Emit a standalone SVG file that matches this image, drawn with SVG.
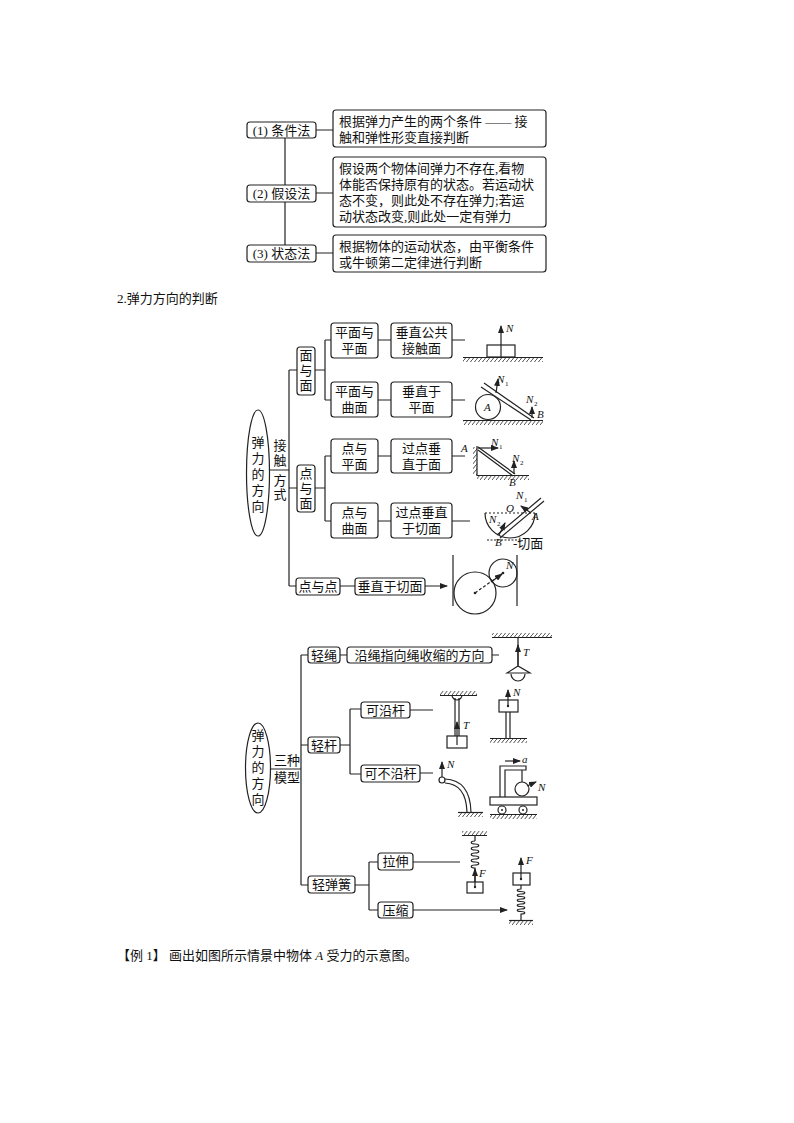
<svg xmlns="http://www.w3.org/2000/svg" width="794" height="1123" viewBox="0 0 794 1123">
<style>
.b{fill:#fff;stroke:#222;stroke-width:1.2}
.l{fill:none;stroke:#222;stroke-width:1.2}
.t{font-family:"Liberation Serif","Noto Sans CJK SC",serif;font-size:13px;fill:#111}
.c{text-anchor:middle}
.i{font-style:italic;font-size:11px}
.s{font-size:7px}
.th{fill:none;stroke:#222;stroke-width:0.9}
</style>
<defs>
<marker id="a" markerWidth="8" markerHeight="6" refX="7" refY="3" orient="auto" markerUnits="userSpaceOnUse"><path d="M0,0 L8,3 L0,6 Z" fill="#222"/></marker>
<pattern id="h" width="4" height="5" patternUnits="userSpaceOnUse"><path d="M4,0 L0,5" stroke="#222" stroke-width="0.8"/></pattern>
</defs>
<rect width="794" height="1123" fill="#fff"/>

<!-- Section 1 -->
<g id="connectors1">
<path class="l" d="M285,138 V245 M316,130 H333 M316,193 H333 M316,253 H333"/>
</g>
<g id="n1"><rect class="b" x="247" y="122" width="69" height="16" rx="3"/><text class="t c" x="281.5" y="135">(1) 条件法</text></g>
<g id="n1r"><rect class="b" x="333" y="110" width="213" height="37" rx="3"/><text class="t" x="339" y="126">根据弹力产生的两个条件 —— 接</text><text class="t" x="339" y="142">触和弹性形变直接判断</text></g>
<g id="n2"><rect class="b" x="247" y="185" width="69" height="17" rx="3"/><text class="t c" x="281.5" y="198">(2) 假设法</text></g>
<g id="n2r"><rect class="b" x="333" y="157" width="213" height="70" rx="3"/><text class="t" x="339" y="173">假设两个物体间弹力不存在,看物</text><text class="t" x="339" y="189">体能否保持原有的状态。若运动状</text><text class="t" x="339" y="205">态不变，则此处不存在弹力;若运</text><text class="t" x="339" y="221">动状态改变,则此处一定有弹力</text></g>
<g id="n3"><rect class="b" x="247" y="245" width="69" height="17" rx="3"/><text class="t c" x="281.5" y="258">(3) 状态法</text></g>
<g id="n3r"><rect class="b" x="333" y="235" width="213" height="37" rx="3"/><text class="t" x="339" y="251">根据物体的运动状态，由平衡条件</text><text class="t" x="339" y="267">或牛顿第二定律进行判断</text></g>

<text class="t" x="117" y="303">2.弹力方向的判断</text>

<!-- Section 2 -->
<g id="connectors2">
<path class="l" d="M270,470 H289 M289,370 V586 M289,370 H297 M289,488 H297 M289,586 H296 M315,370 H325 M325,340 V400 M325,340 H331 M325,400 H331 M315,488 H325 M325,456 V521 M325,456 H331 M325,521 H331"/>
<path class="l" marker-end="url(#a)" d="M378,340 H391 M452,340 H465 M378,400 H391 M452,400 H465 M378,456 H391 M452,456 H465 M378,521 H391 M452,521 H470 M340,586 H355 M425,586 H447"/>
</g>
<g id="e2"><ellipse class="b" cx="258" cy="473" rx="11.5" ry="63"/><text class="t c" x="258" y="447">弹</text><text class="t c" x="258" y="463">力</text><text class="t c" x="258" y="479">的</text><text class="t c" x="258" y="495">方</text><text class="t c" x="258" y="511">向</text></g>
<g id="jc"><text class="t c" x="280" y="450">接</text><text class="t c" x="280" y="465">触</text><text class="t c" x="280" y="485">方</text><text class="t c" x="280" y="499">式</text></g>
<g id="mym"><rect class="b" x="297" y="347" width="18" height="48" rx="3"/><text class="t c" x="306" y="360">面</text><text class="t c" x="306" y="375">与</text><text class="t c" x="306" y="390">面</text></g>
<g id="dym"><rect class="b" x="297" y="465" width="18" height="47" rx="3"/><text class="t c" x="306" y="478">点</text><text class="t c" x="306" y="493">与</text><text class="t c" x="306" y="508">面</text></g>
<g id="pmpm"><rect class="b" x="331" y="323" width="47" height="35" rx="3"/><text class="t c" x="354.5" y="337">平面与</text><text class="t c" x="354.5" y="353">平面</text></g>
<g id="czgg"><rect class="b" x="391" y="323" width="61" height="35" rx="3"/><text class="t c" x="421.5" y="337">垂直公共</text><text class="t c" x="421.5" y="353">接触面</text></g>
<g id="pmqm"><rect class="b" x="331" y="382" width="47" height="35" rx="3"/><text class="t c" x="354.5" y="396">平面与</text><text class="t c" x="354.5" y="412">曲面</text></g>
<g id="czypm"><rect class="b" x="391" y="382" width="61" height="35" rx="3"/><text class="t c" x="421.5" y="396">垂直于</text><text class="t c" x="421.5" y="412">平面</text></g>
<g id="dypm"><rect class="b" x="331" y="439" width="47" height="34" rx="3"/><text class="t c" x="354.5" y="453">点与</text><text class="t c" x="354.5" y="469">平面</text></g>
<g id="gdcz"><rect class="b" x="391" y="439" width="61" height="34" rx="3"/><text class="t c" x="421.5" y="453">过点垂</text><text class="t c" x="421.5" y="469">直于面</text></g>
<g id="dyqm"><rect class="b" x="331" y="503" width="47" height="35" rx="3"/><text class="t c" x="354.5" y="517">点与</text><text class="t c" x="354.5" y="533">曲面</text></g>
<g id="gdczqm"><rect class="b" x="391" y="503" width="61" height="35" rx="3"/><text class="t c" x="421.5" y="517">过点垂直</text><text class="t c" x="421.5" y="533">于切面</text></g>
<g id="dyd"><rect class="b" x="296" y="578" width="44" height="17" rx="3"/><text class="t c" x="318" y="591">点与点</text></g>
<g id="czyqm"><rect class="b" x="355" y="578" width="70" height="17" rx="3"/><text class="t c" x="390" y="591">垂直于切面</text></g>

<!-- illustrations 2 -->
<g id="fig1">
<rect x="463" y="358" width="80" height="4" fill="url(#h)"/><path class="l" d="M463,357.5 H543"/>
<rect class="l" x="487" y="345" width="28" height="12"/>
<path class="l" marker-end="url(#a)" d="M501,357 V326"/><text class="t i" x="506" y="332">N</text>
</g>
<g id="fig2">
<rect x="463" y="421" width="80" height="4" fill="url(#h)"/><path class="l" d="M463,420.5 H543"/>
<circle class="l" cx="488" cy="407" r="12.5"/><text class="t i" x="484" y="411">A</text>
<path class="l" d="M484,383 L534,418 M481,387 L531,420"/>
<path class="l" marker-end="url(#a)" d="M496,393 L498,379"/><text class="t i" x="497" y="383">N</text><text class="t s" x="505" y="386">1</text>
<path class="l" marker-end="url(#a)" d="M532,418 V407"/><text class="t i" x="526" y="403">N</text><text class="t s" x="534" y="406">2</text><text class="t i" x="537" y="418">B</text>
</g>
<g id="fig3">
<rect x="473" y="447" width="4" height="28" fill="url(#h)"/><rect x="477" y="476" width="52" height="4" fill="url(#h)"/>
<path class="l" d="M477,446 V475.5 H529"/>
<path class="l" d="M478,447 L515,474 M478,450 L513,476"/>
<path class="l" marker-end="url(#a)" d="M478,448 H498"/><text class="t i" x="491" y="446">N</text><text class="t s" x="499" y="449">1</text>
<path class="l" marker-end="url(#a)" d="M514,474 V461"/><text class="t i" x="512" y="462">N</text><text class="t s" x="520" y="465">2</text>
<text class="t i" x="461" y="452">A</text><text class="t i" x="509" y="486">B</text>
</g>
<g id="fig4">
<path class="l" stroke-dasharray="2,2" d="M485,513 H535"/>
<path class="l" d="M485,513 A25,25 0 0 0 535,513"/>
<path class="l" d="M497,535 L541,498 M500,538 L544,501"/>
<path class="l" marker-end="url(#a)" d="M531,513 L521,506"/><text class="t i" x="516" y="499">N</text><text class="t s" x="524" y="502">1</text>
<text class="t i" x="506" y="512">O</text><text class="t i" x="532" y="520">A</text>
<path class="l" marker-end="url(#a)" d="M499,535 L505,523"/><text class="t i" x="489" y="523">N</text><text class="t s" x="497" y="526">2</text>
<path class="l" stroke-dasharray="2,1.5" d="M487,540 L520,540"/>
<text class="t i" x="495" y="546">B</text><text class="t" x="513" y="548" font-size="12">-切面</text>
</g>
<g id="fig5">
<path class="l" d="M453,555 V606 M517,555 V606"/>
<circle class="l" cx="475" cy="593" r="21"/><circle class="l" cx="503" cy="573" r="14"/>
<circle cx="475" cy="593" r="1.3" fill="#222"/><circle cx="503" cy="573" r="1.3" fill="#222"/>
<path class="l" stroke-dasharray="3,2" d="M475,593 L503,573"/>
<path class="l" marker-end="url(#a)" d="M491,582 L502,574"/><text class="t i" x="506" y="569">N</text>
</g>

<!-- Section 3 -->
<g id="connectors3">
<path class="l" d="M270,769 H301 M301,655 V885 M301,655 H308 M301,745 H308 M301,885 H308 M340,655 H347 M340,745 H350 M350,709 V774 M350,709 H361 M350,774 H361 M355,885 H369 M369,862 V910 M369,862 H378 M369,910 H378"/>
<path class="l" marker-end="url(#a)" d="M492,655 H499 M410,710 H433 M420,773 H433 M413,862 H460 M413,910 H507"/>
</g>
<g id="e3"><ellipse class="b" cx="258" cy="768" rx="12.5" ry="45"/><text class="t c" x="258" y="740">弹</text><text class="t c" x="258" y="756">力</text><text class="t c" x="258" y="772">的</text><text class="t c" x="258" y="788">方</text><text class="t c" x="258" y="804">向</text></g>
<g id="szmx"><text class="t c" x="287" y="765">三种</text><text class="t c" x="287" y="782" font-size="12">模型</text></g>
<g id="qs"><rect class="b" x="308" y="647" width="32" height="16" rx="3"/><text class="t c" x="324" y="660">轻绳</text></g>
<g id="ysz"><rect class="b" x="347" y="647" width="145" height="16" rx="3"/><text class="t c" x="419.5" y="660">沿绳指向绳收缩的方向</text></g>
<g id="qg"><rect class="b" x="308" y="737" width="32" height="16" rx="3"/><text class="t c" x="324" y="750">轻杆</text></g>
<g id="kyg"><rect class="b" x="361" y="702" width="49" height="16" rx="3"/><text class="t c" x="385.5" y="715">可沿杆</text></g>
<g id="kbyg"><rect class="b" x="361" y="765" width="59" height="17" rx="3"/><text class="t c" x="390.5" y="778">可不沿杆</text></g>
<g id="qth"><rect class="b" x="308" y="876" width="47" height="17" rx="3"/><text class="t c" x="331.5" y="889">轻弹簧</text></g>
<g id="ls"><rect class="b" x="378" y="853" width="35" height="17" rx="3"/><text class="t c" x="395.5" y="866">拉伸</text></g>
<g id="ys"><rect class="b" x="378" y="902" width="35" height="16" rx="3"/><text class="t c" x="395.5" y="915">压缩</text></g>

<!-- illustrations 3 -->
<g id="lamp">
<rect x="492" y="633" width="60" height="4" fill="url(#h)"/><path class="l" d="M492,637.5 H552 M518,637 V667"/>
<path class="l" d="M507,673 L518,666 L530,673 Z"/><path class="l" d="M511,674 A7,7 0 0 0 525,674"/>
<path class="l" marker-end="url(#a)" d="M518,665 V645"/><text class="t i" x="523" y="656">T</text>
</g>
<g id="rod1">
<rect x="440" y="691" width="37" height="4" fill="url(#h)"/><path class="l" d="M440,695.5 H477"/>
<path class="l" d="M452,695 A5,5 0 0 0 462,695"/>
<path class="l" d="M455,698 V736 M459,698 V736"/><rect class="l" x="447" y="736" width="20" height="12"/>
<path class="l" marker-end="url(#a)" d="M457,745 V722"/><text class="t i" x="463" y="729">T</text>
</g>
<g id="pole">
<rect class="l" x="499" y="700" width="19" height="12"/><circle cx="508" cy="706" r="1.2" fill="#222"/>
<path class="l" marker-end="url(#a)" d="M508,706 V690"/><text class="t i" x="513" y="696">N</text>
<path class="l" d="M506,712 V738 M510,712 V738 M490,738.5 H527"/><rect x="490" y="739" width="37" height="4" fill="url(#h)"/>
</g>
<g id="bent">
<circle class="l" cx="442" cy="780" r="3"/>
<path class="l" marker-end="url(#a)" d="M442,777 V762"/><text class="t i" x="447" y="768">N</text>
<path class="l" d="M445,779 Q470,780 471,812 M445,783 Q466,784 467,812"/>
<path class="l" d="M458,812.5 H483"/><rect x="458" y="813" width="25" height="4" fill="url(#h)"/>
</g>
<g id="cart">
<rect class="l" x="490" y="797" width="47" height="8"/>
<circle class="l" cx="502" cy="810" r="4"/><circle class="l" cx="523" cy="810" r="4"/><circle cx="502" cy="810" r="1" fill="#222"/><circle cx="523" cy="810" r="1" fill="#222"/>
<path class="l" d="M490,814.5 H537"/><rect x="490" y="815" width="47" height="4" fill="url(#h)"/>
<path class="l" d="M500,797 V766 H526 V770 H505 V797 M522,770 V782"/>
<circle class="l" cx="522" cy="789" r="7"/>
<path class="l" marker-end="url(#a)" d="M527,786 L536,782"/><text class="t i" x="538" y="791">N</text>
<path class="l" marker-end="url(#a)" d="M505,761 H520"/><text class="t i" x="522" y="763">a</text>
</g>
<g id="spring1">
<rect x="462" y="831" width="25" height="4" fill="url(#h)"/><path class="l" d="M462,835.5 H487 M475,836 V841"/>
<path class="l" d="M475,841 c-5,0 -5,3 0,3 c5,0 5,3 0,3 c-5,0 -5,3 0,3 c5,0 5,3 0,3 c-5,0 -5,3 0,3 c5,0 5,3 0,3 c-5,0 -5,3 0,3 c5,0 5,3 0,3 c-5,0 -5,3 0,3 V882"/>
<rect class="l" x="467" y="882" width="16" height="11"/><circle cx="475" cy="887" r="1.2" fill="#222"/>
<path class="l" marker-end="url(#a)" d="M475,887 V869"/><text class="t i" x="479" y="877">F</text>
</g>
<g id="spring2">
<rect class="l" x="513" y="873" width="17" height="12"/><circle cx="521" cy="879" r="1.2" fill="#222"/>
<path class="l" marker-end="url(#a)" d="M521,879 V858"/><text class="t i" x="526" y="864">F</text>
<path class="l" d="M521,885 V889 c-5,0 -5,2.5 0,2.5 c5,0 5,2.5 0,2.5 c-5,0 -5,2.5 0,2.5 c5,0 5,2.5 0,2.5 c-5,0 -5,2.5 0,2.5 c5,0 5,2.5 0,2.5 c-5,0 -5,2.5 0,2.5 c5,0 5,2.5 0,2.5 c-5,0 -5,2.5 0,2.5 c5,0 5,2.5 0,2.5 V920"/>
<path class="l" d="M509,920.5 H533"/><rect x="509" y="921" width="24" height="4" fill="url(#h)"/>
</g>

<text class="t" x="117" y="960">【例 1】 画出如图所示情景中物体 <tspan font-style="italic">A</tspan> 受力的示意图。</text>
</svg>
